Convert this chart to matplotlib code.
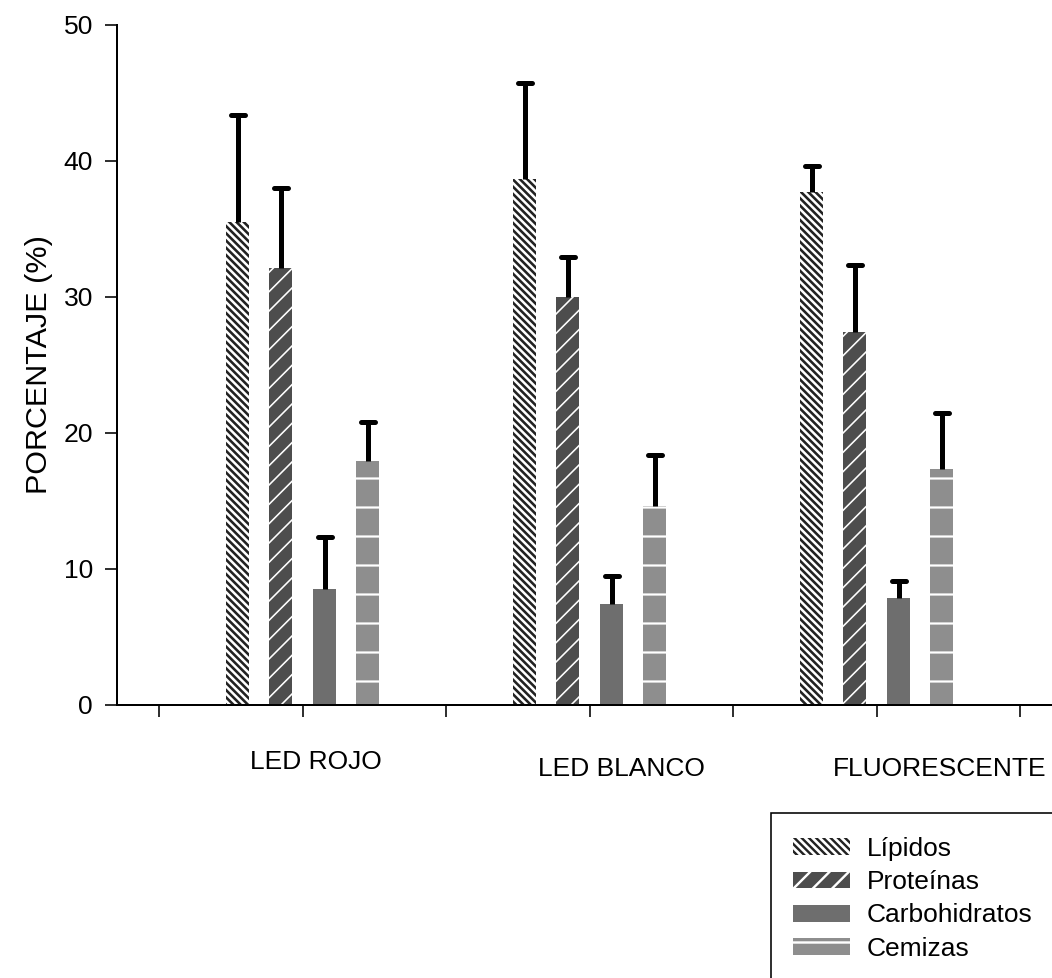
import numpy as np
import matplotlib
matplotlib.use("Agg")
import matplotlib.pyplot as plt
from matplotlib.markers import MarkerStyle
from matplotlib.patches import Rectangle

plt.rcParams['font.family'] = ['Liberation Sans', 'DejaVu Sans']

# Composition (%) per light treatment, with standard deviation (upper bars only)
tratamientos = ['LED ROJO', 'LED BLANCO', 'FLUORESCENTE']
componentes = ['Lípidos', 'Proteínas', 'Carbohidratos', 'Cemizas']

lipidos = [35.5, 38.7, 37.7]
lipidos_err = [7.85, 7.0, 1.95]
proteinas = [32.1, 30.0, 27.45]
proteinas_err = [5.9, 2.95, 4.9]
carbohidratos = [8.5, 7.4, 7.9]
carbohidratos_err = [3.85, 2.05, 1.2]
cemizas = [17.95, 14.65, 17.35]
cemizas_err = [2.85, 3.75, 4.15]

# hatch spacing scales with dpi, so the dpi is picked for the stripe widths
DPI = 174


def pt(px):
    # pixel sizes -> points at the output dpi
    return px * 72 / DPI


fig = plt.figure(figsize=(1052 / DPI, 978 / DPI), dpi=DPI)
ax = fig.add_axes([117 / 1052, 273 / 978, 935 / 1052, 680 / 978])

x = np.arange(len(tratamientos))
w = 0.08
offs = [-0.2265, -0.0767, 0.0767, 0.2265]

series = [lipidos, proteinas, carbohidratos, cemizas]
errs = [lipidos_err, proteinas_err, carbohidratos_err, cemizas_err]
# (face, hatch colour, hatch, hatch linewidth in px)
estilos = [
    ('white', '#222222', '\\' * 8, 2.6),
    ('#4d4d4d', 'white', '///', 1.6),
    ('#6e6e6e', '#6e6e6e', None, 1.0),
    ('#8e8e8e', 'white', '-', 2.2),
]

handles = []
for vals, off, (fc, hc, hatch, hlw), lab in zip(series, offs, estilos, componentes):
    with plt.rc_context({'hatch.linewidth': pt(hlw)}):
        b = ax.bar(x + off, vals, w, color=fc, edgecolor=hc, hatch=hatch,
                   linewidth=0, label=lab, zorder=2)
    handles.append(b)

for vals, e, off in zip(series, errs, offs):
    eb = ax.errorbar(x + off, vals, yerr=[np.zeros(len(vals)), e], fmt='none',
                     ecolor='black', elinewidth=pt(5), capsize=pt(7),
                     capthick=pt(5), zorder=3)
    for cap in eb[1]:
        if np.allclose(cap.get_ydata(), vals):
            cap.set_visible(False)
        cap.set_marker(MarkerStyle('_', capstyle='round'))

ax.set_ylim(0, 50)
ax.set_xlim(-0.648, 2.61)
ax.set_yticks([0, 10, 20, 30, 40, 50])
ax.set_xticks([-0.5, 0, 0.5, 1, 1.5, 2, 2.5])
ax.set_xticklabels([])
ax.spines['top'].set_visible(False)
ax.spines['right'].set_visible(False)
for s in ['left', 'bottom']:
    ax.spines[s].set_linewidth(pt(2))
ax.tick_params(axis='both', direction='out', length=pt(12), width=pt(1.6),
               labelsize=pt(26.5), pad=pt(12))
ax.set_ylabel('PORCENTAJE (%)', fontsize=pt(30.5), labelpad=pt(10))

# category names under the axis
pos_etiquetas = [(0.045, -0.084), (1.111, -0.094), (2.22, -0.094)]
for (px, py), t in zip(pos_etiquetas, tratamientos):
    ax.text(px, py, t, transform=ax.get_xaxis_transform(), ha='center',
            va='center', fontsize=pt(26.4))

fig.legend(handles=handles, loc='upper left',
           bbox_to_anchor=(793 / 1052, 1 - 837 / 978), frameon=False,
           borderpad=0, borderaxespad=0, fontsize=pt(26.4), handlelength=2.16,
           handleheight=0.6, handletextpad=0.64, labelspacing=0.35)
fig.patches.append(Rectangle((771 / 1052, -0.05), 0.4, 0.05 + 1 - 813 / 978,
                             transform=fig.transFigure, fill=False,
                             edgecolor='black', linewidth=pt(1.6)))

fig.savefig('out.png', dpi=DPI)
